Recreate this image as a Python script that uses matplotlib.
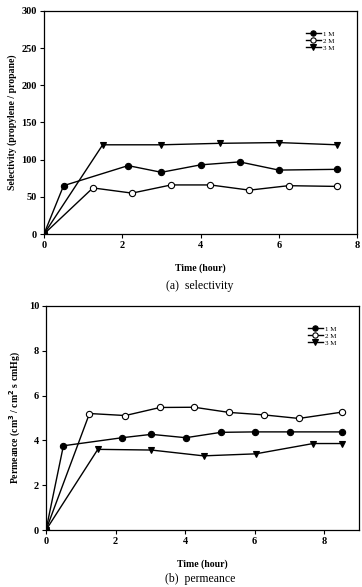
import matplotlib.pyplot as plt
import numpy as np

plt.rcParams['font.family'] = ['Liberation Serif', 'DejaVu Serif']

# selectivity data (top)
sel_t1 = [0, 0.5, 2.15, 3, 4, 5, 6, 7.5]
sel_1m = [0, 65, 92, 83, 93, 97, 86, 87]
sel_t2 = [0, 1.25, 2.25, 3.25, 4.25, 5.25, 6.25, 7.5]
sel_2m = [0, 62, 55, 66, 66, 59, 65, 64]
sel_t3 = [0, 1.5, 3, 4.5, 6, 7.5]
sel_3m = [0, 120, 120, 122, 123, 120]

# permeance data (bottom)
per_t1 = [0, 0.5, 2.19, 3.03, 4.02, 5.03, 6.02, 7.03, 8.5]
per_1m = [0, 3.76, 4.12, 4.27, 4.12, 4.36, 4.38, 4.38, 4.38]
per_t2 = [0, 1.25, 2.28, 3.28, 4.26, 5.26, 6.26, 7.27, 8.5]
per_2m = [0, 5.2, 5.11, 5.47, 5.48, 5.25, 5.14, 4.98, 5.26]
per_t3 = [0, 1.49, 3.03, 4.53, 6.03, 7.68, 8.5]
per_3m = [0, 3.6, 3.57, 3.31, 3.40, 3.86, 3.86]

labels = ['1 M', '2 M', '3 M']

W, H = 362, 587
fig = plt.figure(figsize=(W / 100, H / 100), dpi=100)
ax1 = fig.add_axes([44 / W, 1 - 234 / H, (357 - 44) / W, (234 - 11) / H])
ax2 = fig.add_axes([46 / W, 1 - 530 / H, (359 - 46) / W, (530 - 306) / H])

def draw(ax, series):
    styles = [dict(marker='o', mfc='black'), dict(marker='o', mfc='white'), dict(marker='v', mfc='black')]
    for (t, v), st, lab in zip(series, styles, labels):
        ax.plot(t, v, color='black', lw=1.0, ms=4.5, mec='black', mew=0.8, label=lab, **st)
    for sp in ax.spines.values():
        sp.set_linewidth(0.9)
    ax.tick_params(direction='out', length=3, width=0.8, labelsize=7.5, pad=2)
    ax.legend(loc='upper right', frameon=False, fontsize=5, handlelength=2.2,
              handletextpad=0.3, labelspacing=0.15, borderaxespad=1.5,
              bbox_to_anchor=(0.97, 0.97), markerscale=0.85)

draw(ax1, [(sel_t1, sel_1m), (sel_t2, sel_2m), (sel_t3, sel_3m)])
ax1.set_xlim(0, 8)
ax1.set_ylim(0, 300)
ax1.set_xticks([0, 2, 4, 6, 8])
ax1.set_yticks(np.arange(0, 301, 50))
for lb in ax1.get_xticklabels() + ax1.get_yticklabels():
    lb.set_fontweight('bold')
ax1.set_ylabel('Selectivity (propylene / propane)', fontsize=7, fontweight='bold', labelpad=3)
ax1.set_xlabel('Time (hour)', fontsize=7, fontweight='bold', labelpad=10)

draw(ax2, [(per_t1, per_1m), (per_t2, per_2m), (per_t3, per_3m)])
ax2.set_xlim(0, 9)
ax2.set_ylim(0, 10)
ax2.set_xticks([0, 2, 4, 6, 8])
ax2.set_yticks(np.arange(0, 11, 2))
for lb in ax2.get_xticklabels() + ax2.get_yticklabels():
    lb.set_fontweight('bold')
ax2.set_ylabel('Permeance (cm$^\\mathbf{3}$ / cm$^\\mathbf{2}$ s cmHg)', fontsize=7, fontweight='bold', labelpad=4)
ax2.set_xlabel('Time (hour)', fontsize=7, fontweight='bold', labelpad=10)

fig.text(200 / W, 1 - 286 / H, '(a)  selectivity', ha='center', va='center', fontsize=8.5)
fig.text(200 / W, 1 - 579 / H, '(b)  permeance', ha='center', va='center', fontsize=8.5)

fig.savefig('out.png', dpi=100)
